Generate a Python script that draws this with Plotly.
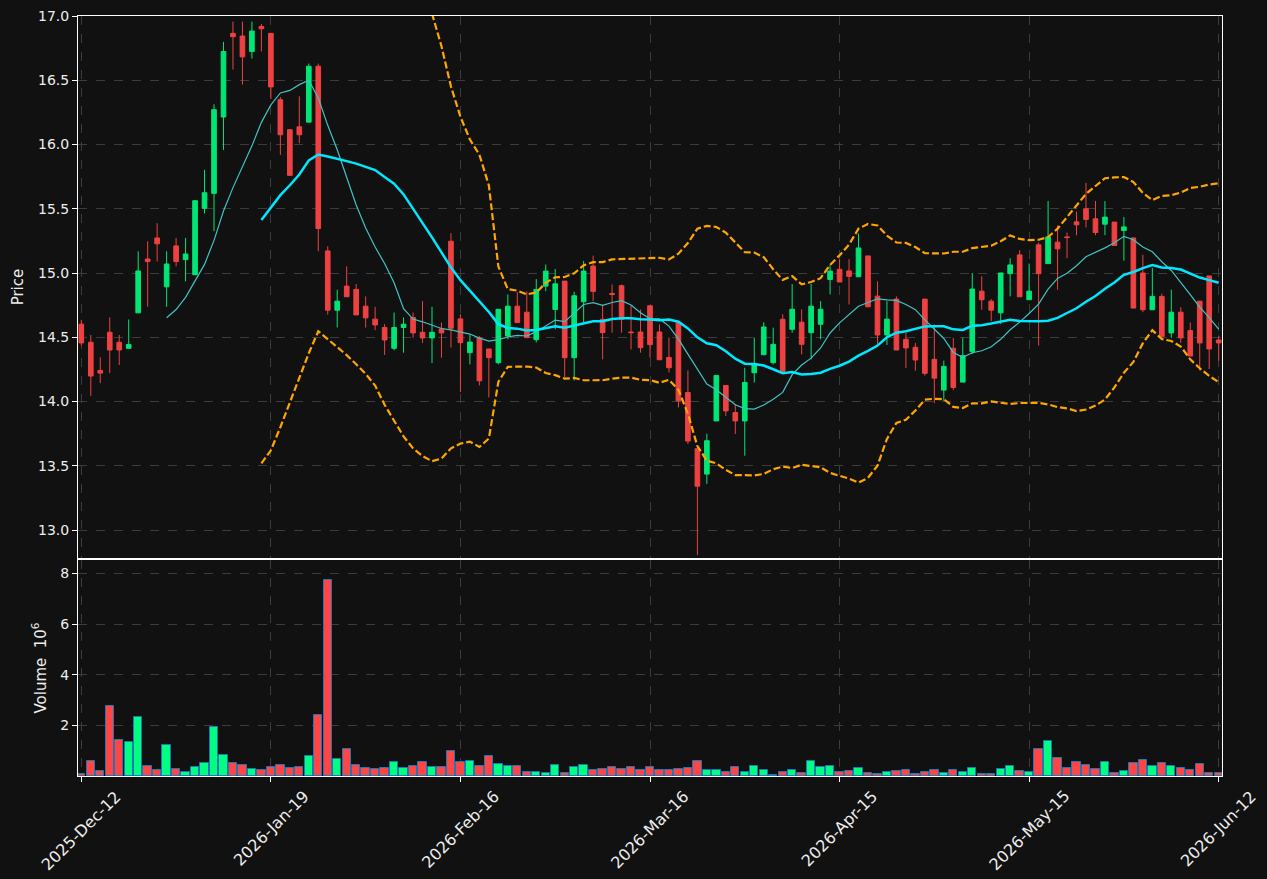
import pandas as pd
import plotly.graph_objects as go

# ---- data (index-based trading days) ----
opens = [14.602, 14.461, 14.242, 14.539, 14.461, 14.414, 14.690, 15.109, 15.273, 14.893,
         15.211, 15.104, 14.987, 15.503, 15.620, 16.214, 16.865, 16.844, 16.724, 16.919,
         16.865, 16.349, 16.115, 16.138, 16.174, 16.609, 15.172, 14.711, 14.898, 14.872,
         14.742, 14.641, 14.576, 14.414, 14.576, 14.654, 14.539, 14.495, 14.565, 15.247,
         14.643, 14.380, 14.494, 14.409, 14.302, 14.510, 14.742, 14.695, 14.481, 14.898,
         14.716, 14.937, 14.341, 14.776, 15.054, 14.640, 14.841, 14.901, 14.541, 14.541,
         14.745, 14.541, 14.343, 14.614, 14.070, 13.633, 13.435, 13.849, 14.125, 13.914,
         13.849, 14.224, 14.364, 14.302, 14.640, 14.562, 14.617, 14.536, 14.601, 14.950,
         15.029, 15.016, 14.971, 15.133, 14.820, 14.518, 14.797, 14.484, 14.422, 14.797,
         14.328, 14.089, 14.414, 14.151, 14.388, 14.859, 14.781, 14.690, 14.995, 15.141,
         14.792, 15.219, 15.073, 15.240, 15.281, 15.398, 15.500, 15.422, 15.380, 15.396,
         15.331, 15.273, 15.000, 14.714, 14.818, 14.534, 14.695, 14.552, 14.781, 14.977,
         14.479]
highs = [14.635, 14.518, 14.344, 14.654, 14.518, 14.638, 15.169, 15.247, 15.388, 15.169,
         15.273, 15.273, 15.563, 15.802, 16.313, 16.799, 16.956, 16.956, 16.956, 16.938,
         16.865, 16.370, 16.115, 16.375, 16.630, 16.630, 15.208, 14.870, 15.052, 14.914,
         14.818, 14.737, 14.602, 14.693, 14.654, 14.693, 14.781, 14.737, 14.615, 15.310,
         14.679, 14.521, 14.510, 14.409, 14.718, 14.833, 14.851, 14.857, 14.953, 15.067,
         15.031, 14.937, 14.854, 15.093, 15.135, 14.755, 14.911, 14.911, 14.747, 14.716,
         14.745, 14.601, 14.497, 14.614, 14.242, 13.633, 13.750, 14.203, 14.125, 13.981,
         14.263, 14.497, 14.617, 14.575, 14.679, 14.914, 14.716, 14.914, 14.781, 15.067,
         15.107, 15.107, 15.307, 15.133, 14.935, 14.781, 14.818, 14.534, 14.456, 14.797,
         14.599, 14.318, 14.495, 14.495, 15.000, 14.974, 14.797, 15.000, 15.115, 15.177,
         15.073, 15.237, 15.560, 15.370, 15.315, 15.477, 15.701, 15.560, 15.560, 15.396,
         15.435, 15.273, 15.141, 15.039, 14.839, 14.870, 14.734, 14.615, 14.781, 14.977,
         14.513]
lows = [14.435, 14.044, 14.143, 14.221, 14.284, 14.414, 14.690, 14.737, 15.089, 14.737,
        15.052, 14.935, 14.987, 15.464, 15.326, 15.958, 16.583, 16.466, 16.669, 16.724,
        16.354, 15.919, 15.760, 16.010, 16.174, 15.169, 14.677, 14.576, 14.815, 14.674,
        14.576, 14.555, 14.362, 14.398, 14.380, 14.497, 14.456, 14.299, 14.341, 14.419,
        14.073, 14.289, 14.125, 14.031, 14.289, 14.484, 14.614, 14.497, 14.460, 14.859,
        14.562, 14.190, 14.164, 14.612, 14.781, 14.328, 14.536, 14.536, 14.406, 14.380,
        14.341, 14.325, 14.226, 13.953, 13.669, 12.804, 13.359, 13.849, 13.888, 13.747,
        13.578, 14.148, 14.364, 14.289, 14.234, 14.536, 14.367, 14.328, 14.484, 14.833,
        14.930, 14.755, 14.971, 14.737, 14.448, 14.440, 14.401, 14.260, 14.240, 14.201,
        13.987, 14.005, 14.089, 14.151, 14.370, 14.714, 14.625, 14.604, 14.818, 14.815,
        14.792, 14.435, 15.073, 14.870, 15.115, 15.294, 15.354, 15.294, 15.294, 15.214,
        15.096, 14.727, 14.695, 14.714, 14.505, 14.495, 14.456, 14.354, 14.240, 14.253,
        14.318]
closes = [14.456, 14.198, 14.221, 14.401, 14.401, 14.443, 15.016, 15.089, 15.227, 15.070,
          15.089, 15.148, 15.563, 15.625, 16.271, 16.724, 16.839, 16.682, 16.883, 16.901,
          16.448, 16.076, 15.760, 16.076, 16.609, 15.346, 14.711, 14.781, 14.815, 14.674,
          14.651, 14.596, 14.479, 14.576, 14.602, 14.534, 14.495, 14.539, 14.534, 14.570,
          14.458, 14.463, 14.161, 14.341, 14.718, 14.742, 14.614, 14.497, 14.872, 15.015,
          14.916, 14.341, 14.823, 15.015, 14.857, 14.536, 14.833, 14.640, 14.536, 14.419,
          14.442, 14.325, 14.263, 14.005, 13.692, 13.341, 13.695, 14.203, 13.927, 13.849,
          14.148, 14.289, 14.580, 14.445, 14.234, 14.718, 14.445, 14.742, 14.718, 15.015,
          14.930, 14.974, 15.195, 14.737, 14.518, 14.641, 14.401, 14.417, 14.323, 14.219,
          14.182, 14.273, 14.109, 14.357, 14.875, 14.792, 14.711, 15.000, 15.063, 14.815,
          14.859, 14.995, 15.281, 15.188, 15.276, 15.375, 15.417, 15.315, 15.435, 15.214,
          15.359, 14.727, 14.714, 14.818, 14.505, 14.695, 14.495, 14.354, 14.456, 14.409,
          14.456]
volume_millions = [0.06, 0.58, 0.18, 2.75, 1.41, 1.33, 2.32, 0.38, 0.22, 1.21,
                   0.26, 0.17, 0.34, 0.50, 1.92, 0.82, 0.50, 0.42, 0.26, 0.22,
                   0.34, 0.42, 0.30, 0.34, 0.78, 2.39, 7.76, 0.66, 1.05, 0.42,
                   0.30, 0.26, 0.30, 0.54, 0.30, 0.38, 0.54, 0.34, 0.34, 0.97,
                   0.54, 0.58, 0.38, 0.78, 0.46, 0.38, 0.38, 0.17, 0.17, 0.13,
                   0.42, 0.13, 0.34, 0.42, 0.22, 0.26, 0.34, 0.26, 0.34, 0.22,
                   0.34, 0.22, 0.22, 0.26, 0.30, 0.58, 0.22, 0.22, 0.17, 0.34,
                   0.17, 0.38, 0.22, 0.04, 0.14, 0.22, 0.10, 0.58, 0.34, 0.38,
                   0.14, 0.18, 0.30, 0.10, 0.07, 0.14, 0.18, 0.22, 0.07, 0.14,
                   0.22, 0.10, 0.22, 0.14, 0.30, 0.07, 0.07, 0.26, 0.38, 0.18,
                   0.14, 1.05, 1.37, 0.70, 0.30, 0.54, 0.42, 0.26, 0.54, 0.10,
                   0.18, 0.50, 0.62, 0.38, 0.50, 0.38, 0.30, 0.22, 0.46, 0.10,
                   0.10]
tick_positions = [0, 20, 40, 60, 80, 100, 120]
tick_labels = ["2025-Dec-12", "2026-Jan-19", "2026-Feb-16", "2026-Mar-16",
               "2026-Apr-15", "2026-May-15", "2026-Jun-12"]

x = list(range(len(closes)))

# indicators computed from the closes (as the original chart does)
close_s = pd.Series(closes)
ma_short = close_s.rolling(10).mean()
ma_long = close_s.rolling(20).mean()
bb_std = close_s.rolling(20).std(ddof=0)
bb_upper = ma_long + 2 * bb_std
bb_lower = ma_long - 2 * bb_std

UP_C, DN_C = "#00e676", "#ee4242"
VUP_C, VDN_C = "#00ff80", "#ff4545"
vol_colors = [VUP_C if c >= o else VDN_C for o, c in zip(opens, closes)]

BG = "#111111"
GRID = "#3c3c3c"
TXT = "#eeeeee"
FONT = "DejaVu Sans"

fig = go.Figure()
fig.add_trace(go.Candlestick(
    x=x, open=opens, high=highs, low=lows, close=closes,
    increasing=dict(line=dict(color=UP_C, width=1), fillcolor=UP_C),
    decreasing=dict(line=dict(color=DN_C, width=1), fillcolor=DN_C),
    whiskerwidth=0, xaxis="x", yaxis="y", showlegend=False))
fig.add_trace(go.Scatter(x=x, y=ma_short, mode="lines",
                         line=dict(color="#3fc4c4", width=1.2),
                         xaxis="x", yaxis="y", showlegend=False))
fig.add_trace(go.Scatter(x=x, y=ma_long, mode="lines",
                         line=dict(color="#00e8ff", width=2.5),
                         xaxis="x", yaxis="y", showlegend=False))
for band in (bb_upper, bb_lower):
    fig.add_trace(go.Scatter(x=x, y=band, mode="lines",
                             line=dict(color="#ffa500", width=2.2, dash="7px,3px"),
                             xaxis="x", yaxis="y", showlegend=False))
fig.add_trace(go.Bar(x=x, y=volume_millions, width=0.88,
                     marker=dict(color=vol_colors, line=dict(color="#1f77b4", width=1)),
                     xaxis="x2", yaxis="y2", showlegend=False))

# rotated date labels, centred under their ticks
for pos, lab in zip(tick_positions, tick_labels):
    fig.add_annotation(x=pos, xref="x2", y=0, yref="paper", text=lab,
                       textangle=-45, showarrow=False, xanchor="center",
                       yanchor="top", yshift=-8,
                       font=dict(family=FONT, size=16, color=TXT))

xrange = [-0.35, 120.35]
common_x = dict(range=xrange, tickvals=tick_positions, showgrid=True, gridcolor=GRID,
                griddash="dash", gridwidth=1, showline=True, linecolor="white",
                linewidth=1, mirror=True, zeroline=False, showticklabels=False,
                automargin=False)
fig.update_layout(
    width=1267, height=879,
    paper_bgcolor=BG, plot_bgcolor=BG,
    margin=dict(l=78, r=45, t=16, b=103, autoexpand=False),
    font=dict(family=FONT, size=14, color=TXT),
    xaxis=dict(**common_x, anchor="y", matches="x2",
               ticks="", rangeslider=dict(visible=False)),
    xaxis2=dict(**common_x, anchor="y2", ticks="outside",
                ticklen=5, tickcolor="white"),
    yaxis=dict(domain=[0.2868, 1.0], range=[12.782, 17.0], dtick=0.5, tickformat=".1f",
               showgrid=True, gridcolor=GRID, griddash="dash", gridwidth=1,
               showline=True, linecolor="white", linewidth=1, mirror=True,
               ticks="outside", ticklen=5, tickcolor="white", zeroline=False,
               automargin=False,
               tickfont=dict(family=FONT, size=14, color=TXT),
               title=dict(text="Price", standoff=10, font=dict(family=FONT, size=15, color=TXT))),
    yaxis2=dict(domain=[0.0, 0.2842], range=[0, 8.53], tickvals=[2, 4, 6, 8],
                showgrid=True, gridcolor=GRID, griddash="dash", gridwidth=1,
                showline=True, linecolor="white", linewidth=1, mirror=True,
                ticks="outside", ticklen=5, tickcolor="white", zeroline=False,
                automargin=False,
                tickfont=dict(family=FONT, size=14, color=TXT),
                title=dict(text="Volume  10<sup>6</sup>", standoff=10,
                           font=dict(family=FONT, size=15, color=TXT))),
    bargap=0,
    hovermode=False,
)

fig.write_html("out.html")
